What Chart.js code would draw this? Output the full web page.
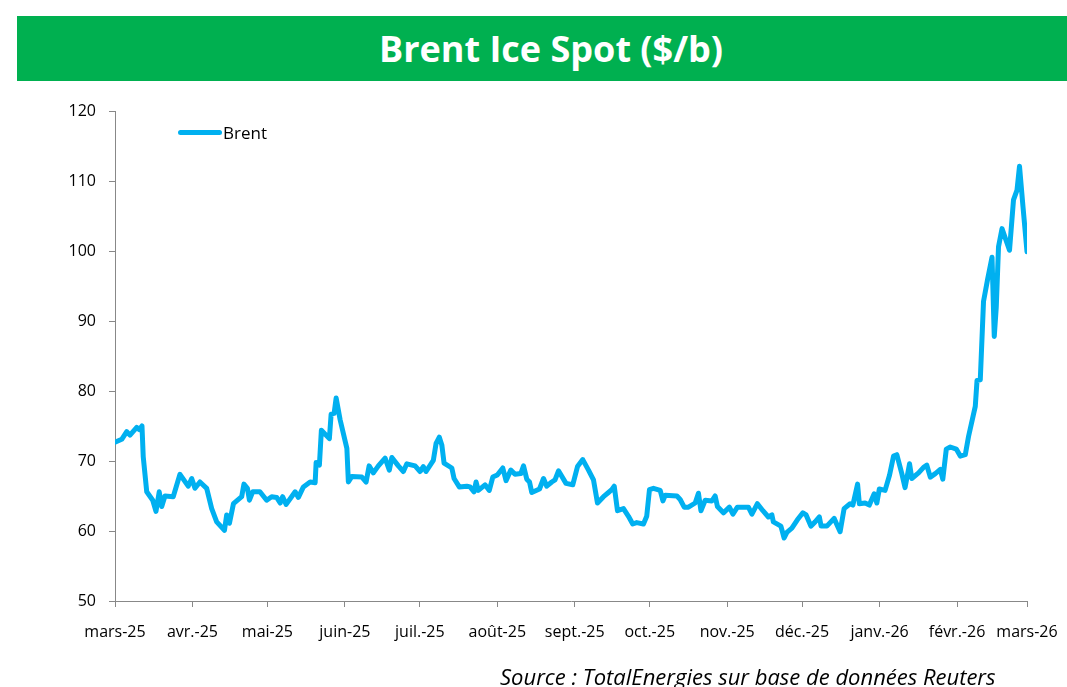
<!DOCTYPE html>
<html>
<head>
	<meta charset="utf-8">
	<title>Brent Ice Spot ($/b)</title>
	<style>
		html, body {
			margin: 0;
			padding: 0;
			width: 1067px;
			height: 687px;
			background: #fff;
			overflow: hidden;
			font-family: "Open Sans", sans-serif;
		}
		.bandeau {
			position: absolute;
			left: 17px;
			top: 16px;
			width: 1050px;
			height: 65px;
			background: #00b050;
			color: #fff;
			font-weight: bold;
			font-size: 36px;
			line-height: 65px;
			text-align: center;
			padding-left: 18px;
			box-sizing: border-box;
		}
		.legende {
			position: absolute;
			left: 178px;
			top: 121px;
			font-size: 17px;
			color: #000;
			display: flex;
			align-items: center;
			gap: 1px;
		}
		.legende span.trait {
			display: inline-block;
			width: 44px;
			height: 5px;
			border-radius: 3px;
			background: #00b0f0;
		}
		.source {
			position: absolute;
			left: 500px;
			top: 661px;
			font-size: 22px;
			font-style: italic;
			color: #000;
			white-space: nowrap;
		}
		.zone {
			position: absolute;
			left: 0;
			top: 0;
			width: 1067px;
			height: 687px;
		}
	</style>
</head>
<body>
	<div class="zone"><canvas id="graphe" width="1067" height="687"></canvas></div>
	<div class="bandeau">Brent Ice Spot ($/b)</div>
	<div class="legende"><span class="trait"></span><span>Brent</span></div>
	<div class="source">Source : TotalEnergies sur base de données Reuters</div>

	<script src="https://cdn.jsdelivr.net/npm/chart.js@4.4.1/dist/chart.umd.min.js"></script>
	<script>
		// jours depuis le 1er mars 2025
		const jours = [
			0, 2.7, 4.7, 6, 8.7, 9.7, 10.8, 11.3, 12.7, 15.1, 16.4, 17.7, 18.7, 20, 23.3, 26, 29.3, 30.7, 32, 34,
			36.7, 38.7, 40.7, 43.8, 44.7, 45.8, 47.4, 50.7, 51.6, 53, 53.8, 55.1, 58, 60.7, 62.7, 64.7, 66.1, 67.1, 68.5, 72.1,
			73.4, 75.4, 78.1, 80.1, 80.5, 81.8, 82.6, 85.8, 86.5, 87.7, 88.5, 90.1, 92.8, 93.4, 94.8, 98.8, 100.5, 101.7, 103.4, 105.4,
			108.1, 109.8, 110.8, 113.4, 115.4, 116.8, 120.1, 122.1, 123.4, 124.5, 127.4, 128.5, 129.8, 130.8, 131.7, 134.8, 135.7, 137.8, 140.8, 142.1,
			143.7, 144.5, 145.4, 148.1, 149.8, 151.2, 153, 155.2, 156.5, 158.4, 160.1, 162.4, 163.5, 164.8, 165.9, 166.8, 169.9, 171.5, 172.8, 174.8,
			176.1, 177.5, 180.5, 183.2, 185.1, 187.2, 189.5, 191.5, 193.1, 195.5, 197.5, 198.8, 199.8, 201.1, 203.5, 205.5, 207.2, 208.8, 211.5, 212.8,
			213.9, 215.5, 218.2, 219.3, 220.2, 224.9, 226.2, 227.8, 229.5, 232.2, 233.5, 234.5, 236.2, 238.9, 240.2, 241.1, 243.5, 245.9, 247.3, 249.1,
			253.5, 254.9, 257.1, 259.3, 261.5, 262.9, 263.5, 266.5, 267.8, 268.9, 270.9, 273.1, 275.3, 276.6, 278.5, 280.2, 281.9, 282.6, 284.9, 287.8,
			290.2, 291.8, 294.2, 295.3, 297.2, 297.9, 300.2, 301.9, 303.8, 304.9, 305.9, 308.2, 310, 311.6, 312.9, 314.9, 316.2, 318, 318.9, 321.6,
			323.6, 324.9, 326.3, 328.3, 330.3, 331.3, 332.7, 334.3, 336.7, 338.3, 340.3, 341.6, 344.3, 345, 346.3, 347.6, 349.2, 351, 351.9, 352.7,
			353.6, 355, 358, 359.6, 361, 362, 363.4, 365
		];
		const brent = [
			72.7, 73.1, 74.2, 73.7, 74.8, 74.5, 75.0, 70.6, 65.6, 64.4, 62.8, 65.6, 63.5, 65.0, 64.9, 68.1, 66.4, 67.5, 66.1, 67.0,
			66.1, 63.2, 61.3, 60.1, 62.3, 61.1, 63.9, 64.9, 66.7, 66.1, 64.4, 65.6, 65.6, 64.4, 64.9, 64.8, 64.0, 64.9, 63.8, 65.6,
			64.8, 66.3, 67.0, 66.9, 69.8, 69.4, 74.4, 73.2, 76.7, 76.8, 79.0, 75.9, 71.8, 67.0, 67.8, 67.7, 67.0, 69.3, 68.3, 69.3,
			70.4, 68.7, 70.5, 69.3, 68.5, 69.6, 69.3, 68.5, 69.2, 68.5, 70.1, 72.5, 73.4, 72.3, 69.7, 69.0, 67.5, 66.3, 66.4, 66.3,
			65.6, 67.0, 65.8, 66.6, 65.8, 67.7, 68.0, 69.0, 67.2, 68.7, 68.1, 68.2, 69.3, 67.4, 67.0, 65.5, 66.0, 67.5, 66.4, 67.0,
			67.3, 68.6, 66.8, 66.6, 69.2, 70.2, 68.7, 67.3, 64.0, 64.9, 65.5, 65.9, 66.4, 62.9, 63.2, 62.1, 61.0, 61.2, 61.0, 62.1,
			65.9, 66.1, 65.8, 64.3, 65.1, 65.0, 64.5, 63.4, 63.4, 64.0, 65.4, 62.9, 64.4, 64.3, 65.0, 63.5, 62.6, 63.4, 62.4, 63.4,
			63.4, 62.4, 63.9, 62.9, 62.0, 62.3, 61.3, 60.7, 59.0, 59.8, 60.4, 61.6, 62.6, 62.3, 60.7, 61.3, 62.0, 60.7, 60.7, 61.8,
			59.9, 63.2, 63.9, 63.7, 66.7, 63.9, 64.0, 63.7, 65.3, 64.0, 66.0, 65.8, 68.0, 70.7, 70.9, 68.2, 66.2, 69.6, 67.5, 68.3,
			69.1, 69.4, 67.7, 68.2, 68.8, 67.4, 71.7, 72.0, 71.7, 70.7, 70.9, 73.5, 77.8, 81.5, 81.6, 92.8, 95.9, 99.1, 87.8, 92.0,
			100.6, 103.2, 100.1, 107.3, 108.7, 112.1, 106.3, 99.9
		];
		const debutsMois = [0, 31, 61, 92, 122, 153, 184, 214, 245, 275, 306, 337, 365];
		const etiquettesMois = ['mars-25', 'avr.-25', 'mai-25', 'juin-25', 'juil.-25', 'août-25', 'sept.-25',
			'oct.-25', 'nov.-25', 'déc.-25', 'janv.-26', 'févr.-26', 'mars-26'];

		const points = jours.map((j, i) => ({ x: j, y: brent[i] }));
		const police = { family: '"Open Sans", sans-serif', size: 16 };

		new Chart(document.getElementById('graphe'), {
			type: 'line',
			data: {
				datasets: [{
					label: 'Brent',
					data: points,
					borderColor: '#00b0f0',
					borderWidth: 5,
					pointRadius: 0,
					tension: 0,
					borderJoinStyle: 'round',
					borderCapStyle: 'round'
				}]
			},
			options: {
				responsive: false,
				animation: false,
				layout: { padding: { top: 111, right: 40, left: 0, bottom: 0 } },
				plugins: {
					legend: { display: false },
					tooltip: { enabled: false }
				},
				scales: {
					x: {
						type: 'linear',
						min: 0,
						max: 365,
						afterBuildTicks: s => { s.ticks = debutsMois.map(v => ({ value: v })); },
						afterFit: s => {
							s.height = 86;
							s.paddingLeft = 0;
							s.paddingRight = 0;
						},
						grid: { display: true, drawOnChartArea: false, drawTicks: true, tickLength: 6, color: '#888' },
						border: { color: '#888', width: 1 },
						ticks: {
							autoSkip: false,
							maxRotation: 0,
							color: '#000',
							font: police,
							padding: 16,
							callback: v => etiquettesMois[debutsMois.indexOf(v)]
						}
					},
					y: {
						min: 50,
						max: 120,
						afterFit: s => { s.width = 115; },
						grid: { display: true, drawOnChartArea: false, drawTicks: true, tickLength: 6, color: '#888' },
						border: { color: '#888', width: 1 },
						ticks: { stepSize: 10, color: '#000', font: police, padding: 13 }
					}
				}
			}
		});
	</script>
</body>
</html>
